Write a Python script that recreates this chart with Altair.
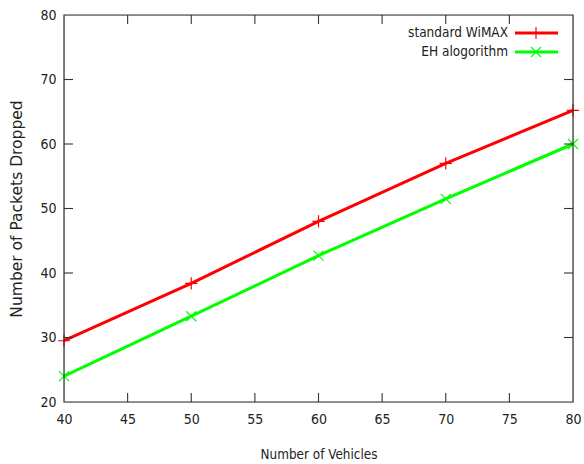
import altair as alt
import pandas as pd

vehicles = [40, 50, 60, 70, 80]
standard_wimax = [29.5, 38.4, 48.0, 57.0, 65.2]
eh_algorithm = [24.0, 33.3, 42.7, 51.5, 60.0]
series_names = ["standard WiMAX", "EH alogorithm"]
series_colors = ["#ff0000", "#00ff00"]
x_ticks = [40, 45, 50, 55, 60, 65, 70, 75, 80]
y_ticks = [20, 30, 40, 50, 60, 70, 80]

W, H = 509, 387

df = pd.DataFrame({
    "vehicles": vehicles * 2,
    "dropped": standard_wimax + eh_algorithm,
    "series": [series_names[0]] * 5 + [series_names[1]] * 5,
})

xs = alt.Scale(domain=[40, 80], nice=False, zero=False)
ys = alt.Scale(domain=[20, 80], nice=False, zero=False)
cs = alt.Scale(domain=series_names, range=series_colors)

FONT = "DejaVu Sans"
COND = "DejaVu Sans Condensed"

base = alt.Chart(df)

xaxis = alt.Axis(values=x_ticks, title="Number of Vehicles", grid=False, ticks=False,
                 domain=False, labelFont=COND, labelFontSize=14, labelColor="#222",
                 labelPadding=10, labelFlush=False, titleFont=COND, titleFontSize=13.4,
                 titleFontWeight="normal", titlePadding=21, titleColor="#222")
yaxis = alt.Axis(values=y_ticks, title="Number of Packets Dropped", grid=False, ticks=False,
                 domain=False, labelFont=COND, labelFontSize=14, labelColor="#222",
                 labelPadding=8, labelFlush=False, titleFont=FONT, titleFontSize=15.5,
                 titleFontWeight="normal", titlePadding=15, titleColor="#222")

lines = base.mark_line(strokeWidth=3, clip=True).encode(
    x=alt.X("vehicles:Q", scale=xs, axis=xaxis),
    y=alt.Y("dropped:Q", scale=ys, axis=yaxis),
    color=alt.Color("series:N", scale=cs, legend=None),
)

plus_path = "M-1,0L1,0M0,-1L0,1"
cross_path = "M-1,-1L1,1M-1,1L1,-1"

pts_std = alt.Chart(df[df.series == series_names[0]]).mark_point(
    shape=plus_path, filled=False, size=150, strokeWidth=1.2, color=series_colors[0], opacity=1, clip=False
).encode(x=alt.X("vehicles:Q", scale=xs), y=alt.Y("dropped:Q", scale=ys))
pts_eh = alt.Chart(df[df.series == series_names[1]]).mark_point(
    shape=cross_path, filled=False, size=100, strokeWidth=1.2, color=series_colors[1], opacity=1, clip=False
).encode(x=alt.X("vehicles:Q", scale=xs), y=alt.Y("dropped:Q", scale=ys))

# frame
frame = alt.Chart(pd.DataFrame({"a": [0]})).mark_rect(
    fill=None, stroke="#333", strokeWidth=1.2
).encode(x=alt.value(0), x2=alt.value(W), y=alt.value(0), y2=alt.value(H))

# inward ticks
xt = pd.DataFrame({"t": x_ticks[1:-1]})
yt = pd.DataFrame({"t": y_ticks[1:-1]})
tick_style = dict(color="#333", strokeWidth=1.1)
xb = alt.Chart(xt).mark_rule(**tick_style).encode(
    x=alt.X("t:Q", scale=xs), y=alt.value(H), y2=alt.value(H - 9))
xtp = alt.Chart(xt).mark_rule(**tick_style).encode(
    x=alt.X("t:Q", scale=xs), y=alt.value(0), y2=alt.value(9))
yl = alt.Chart(yt).mark_rule(**tick_style).encode(
    y=alt.Y("t:Q", scale=ys), x=alt.value(0), x2=alt.value(9))
yr = alt.Chart(yt).mark_rule(**tick_style).encode(
    y=alt.Y("t:Q", scale=ys), x=alt.value(W), x2=alt.value(W - 9))

# legend
leg = []
for i, (name, col, shp, sz) in enumerate(zip(series_names, series_colors, [plus_path, cross_path], [150, 100])):
    yy = 18 + i * 19
    one = pd.DataFrame({"name": [name]})
    leg.append(alt.Chart(one).mark_text(align="right", baseline="middle", font=COND,
                                        fontSize=13.5, color="#222").encode(
        text="name:N", x=alt.value(444), y=alt.value(yy)))
    leg.append(alt.Chart(one).mark_rule(color=col, strokeWidth=3).encode(
        x=alt.value(451), x2=alt.value(494), y=alt.value(yy)))
    leg.append(alt.Chart(one).mark_point(shape=shp, filled=False, size=sz, strokeWidth=1.2,
                                         color=col, opacity=1).encode(
        x=alt.value(472), y=alt.value(yy)))

chart = alt.layer(lines, pts_std, pts_eh, xb, xtp, yl, yr, frame, *leg).properties(
    width=W, height=H,
    autosize=alt.AutoSizeParams(type="none"),
    padding={"left": 64, "top": 15, "right": 11, "bottom": 62},
).configure_view(stroke=None).configure(background="white")

chart.save("out.html", embed_options={"renderer": "svg", "actions": False})
